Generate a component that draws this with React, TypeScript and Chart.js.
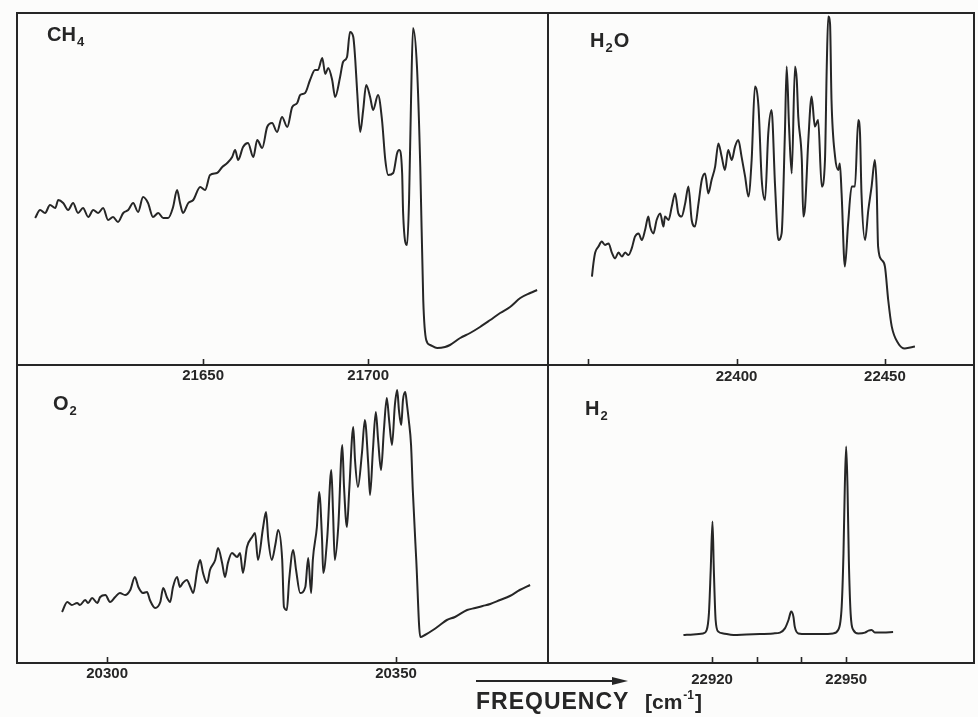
import React, { useEffect, useRef } from "react";
import { Chart, registerables } from "chart.js";

Chart.register(...registerables);

const INK = "#262626";
const FONT = "'Liberation Sans', Arial, sans-serif";
const AXIS_H = 30;

// ---------------- CH4 (top left) ----------------
const ch4Freq = [
  21599.1, 21600.6, 21602.1, 21603.6, 21605.2, 21606.1, 21607.6, 21609.1, 21610.6, 21612.1,
  21613.6, 21615.2, 21616.7, 21618.2, 21619.7, 21621.2, 21622.7, 21624.2, 21625.8, 21627.3,
  21628.8, 21630.3, 21631.8, 21633.3, 21634.8, 21636.4, 21637.9, 21639.4, 21640.9, 21642.1,
  21643.0, 21643.9, 21645.5, 21647.0, 21649.1, 21650.6, 21652.1, 21654.2, 21655.8, 21657.3,
  21658.8, 21659.7, 21660.6, 21662.1, 21663.6, 21665.2, 21666.4, 21667.9, 21669.4, 21670.9,
  21672.4, 21673.9, 21675.5, 21677.0, 21678.5,
  21679.4, 21680.9, 21682.4, 21683.9, 21684.8, 21686.1, 21687.0, 21687.9, 21689.1, 21690.0,
  21691.5, 21692.4, 21693.6, 21694.5, 21695.5, 21696.1, 21696.7, 21697.6, 21698.5, 21699.4,
  21700.6, 21701.5, 21703.0, 21704.2, 21705.2, 21706.1, 21707.6, 21708.8, 21709.4, 21710.3,
  21710.6, 21711.8, 21712.4, 21713.0, 21713.6, 21714.8, 21715.8, 21716.7, 21717.6, 21718.8,
  21720.9, 21723.3, 21724.8, 21727.9, 21730.9, 21733.9, 21737.0, 21740.0, 21743.0, 21746.1,
  21749.1, 21751.2,
];
const ch4Int = [
  73.5, 77.5, 76, 80, 78.5, 82.5, 81, 77.5, 81, 76,
  78.5, 74, 77.5, 76, 78.5, 72.5, 74, 71.5, 76, 77.5,
  81, 76.5, 84, 81, 74, 76, 73.5, 73.5, 79, 87.5,
  81, 76, 81, 82.5, 89, 87.5, 95, 96, 99, 101,
  104, 107.5, 102.5, 109, 111, 104, 112.5, 108.5, 119, 121,
  116.5, 124, 119, 129, 131,
  135, 136, 142.5, 147.5, 147.5, 153.5, 145.5, 148.5, 142.5, 134,
  144, 151.5, 154, 166.5, 164, 152.5, 136, 116.5, 127.5, 140,
  134, 127.5, 135, 122.5, 102.5, 95, 96, 106, 107.5, 96,
  76, 60, 82.5, 132.5, 168.5, 149, 99, 32.5, 12.5, 10,
  8.5, 9, 10, 13.5, 16, 19, 22.5, 26, 29, 33.5,
  36, 37.5,
];
const ch4Ticks = [21650, 21700];
const ch4TickLabels = [21650, 21700];

// ---------------- H2O (top right) ----------------
const h2oFreq = [
  22351.3, 22351.8, 22352.4, 22353.5, 22354.6, 22355.7, 22356.9, 22358.0, 22359.1, 22360.2,
  22361.4, 22362.5, 22363.6, 22364.7, 22365.8, 22367.0, 22368.1, 22369.2, 22370.3, 22370.9,
  22372.0, 22373.1, 22374.3, 22375.4, 22375.9, 22377.1, 22378.2, 22379.3, 22380.4, 22381.5,
  22382.7, 22383.8, 22384.9, 22386.0, 22387.2, 22388.3, 22389.4, 22390.5, 22391.6, 22392.8,
  22393.9, 22395.0, 22396.1, 22397.2, 22398.4, 22399.5, 22400.6, 22401.7, 22402.9, 22404.0,
  22405.1, 22406.2, 22407.4, 22408.5, 22409.6, 22410.7, 22411.8, 22413.0, 22414.1, 22415.2,
  22416.3, 22416.9, 22417.7, 22418.6, 22419.7, 22420.3, 22420.8, 22422.0, 22422.5, 22423.1,
  22424.2, 22425.3, 22426.4, 22427.5, 22428.7, 22429.8, 22430.4, 22430.9, 22431.5, 22432.0,
  22433.2, 22434.3, 22434.8, 22435.4, 22436.5, 22437.6, 22438.8, 22439.9, 22441.0, 22441.6,
  22442.1, 22443.3, 22444.4, 22445.5, 22446.6, 22447.2, 22447.7, 22448.9, 22450.0, 22451.1,
  22452.3, 22454.5, 22456.7, 22460.1,
];
const h2oInt = [
  44.2, 50.8, 56.2, 59.2, 61.7, 60.0, 60.8, 56.2, 53.3, 56.2,
  54.2, 56.2, 55.0, 58.3, 64.2, 65.8, 62.5, 67.5, 74.2, 69.2,
  65.8, 72.5, 75.8, 69.2, 74.2, 72.5, 79.2, 85.8, 75.8, 74.2,
  80.8, 89.2, 72.5, 69.2, 80.8, 92.5, 95.8, 85.8, 92.5, 99.2,
  110.8, 104.2, 97.5, 107.5, 102.5, 109.2, 112.5, 104.2, 94.2, 84.2,
  102.5, 139.2, 129.2, 92.5, 82.5, 115.8, 127.5, 89.2, 62.5, 65.8,
  115.8, 149.2, 119.2, 95.8, 149.2, 142.5, 124.2, 102.5, 74.2, 79.2,
  112.5, 134.2, 119.2, 122.5, 89.2, 102.5, 149.2, 174.2, 170.8, 132.5,
  104.2, 97.5, 100.8, 85.8, 49.2, 70.8, 89.2, 89.2, 122.5, 115.8,
  85.8, 62.5, 77.5, 89.2, 102.5, 89.2, 59.2, 52.5, 49.2, 32.5,
  19.2, 10.8, 8.3, 9.2,
];
const h2oTicks = [22350, 22400, 22450];
const h2oTickLabels = [22400, 22450];

// ---------------- O2 (bottom left) ----------------
const o2Freq = [
  20292.2, 20293.1, 20293.9, 20294.8, 20295.3, 20296.2, 20296.7, 20297.4, 20298.3, 20298.8,
  20299.7, 20300.5, 20301.4, 20302.2, 20303.1, 20304.0, 20304.8, 20305.4, 20306.2, 20306.9,
  20307.4, 20308.3, 20309.2, 20309.7, 20310.4, 20310.9, 20311.4, 20312.1, 20312.6, 20313.1,
  20313.8, 20314.4, 20314.9, 20315.6, 20316.1, 20316.6, 20317.3, 20317.8, 20318.7, 20319.2,
  20319.9, 20320.4, 20320.9, 20321.6, 20322.5, 20323.0, 20323.5, 20324.2, 20325.1, 20325.6,
  20326.1, 20327.0, 20327.5, 20327.9, 20328.5, 20329.1, 20329.6, 20330.3, 20330.6, 20331.1,
  20331.5, 20332.2, 20332.7, 20333.4, 20334.3, 20334.8, 20335.3, 20335.6, 20336.3, 20336.7,
  20337.2, 20337.4, 20338.1, 20338.8, 20339.1, 20339.4, 20340.0, 20340.7, 20341.0, 20341.5,
  20341.9, 20342.6, 20342.9, 20343.4, 20344.1, 20344.6, 20345.2, 20345.5, 20346.0, 20346.5,
  20346.9, 20347.4, 20347.9, 20348.4, 20348.8, 20349.3, 20349.8, 20350.2, 20350.5, 20350.9,
  20351.2, 20351.6, 20351.9, 20352.2, 20352.6, 20352.9, 20353.5, 20354.2, 20355.0, 20356.4,
  20357.6, 20358.8, 20360.2, 20362.3, 20363.7, 20365.0, 20366.3, 20368.0, 20369.7, 20371.4,
  20373.2,
];
const o2Int = [
  25.5, 30.5, 29, 30, 29, 31.5, 30, 32.5, 30, 33,
  34, 30.5, 33, 35, 34, 36.5, 43, 38, 35, 35.5,
  31.5, 27.5, 30.5, 37.5, 32.5, 30.5, 38, 43, 38, 40,
  41.5, 38, 35, 46.5, 51.5, 45, 40, 46.5, 51.5, 57.5,
  50, 43, 50, 55, 53, 55, 45, 58, 63, 65,
  51.5, 68, 75.5, 61.5, 51.5, 59, 66.5, 51.5, 28, 26.5,
  41.5, 56.5, 46.5, 35, 38, 52.5, 35, 51.5, 68, 85.5,
  61.5, 45, 63, 96.5, 75, 51.5, 68, 109, 88, 68,
  86.5, 118, 101.5, 88, 105, 121.5, 99, 84, 106.5, 125.5,
  111.5, 96.5, 116.5, 132.5, 121.5, 109, 129, 136.5, 126.5, 119,
  131.5, 135.5, 129, 121.5, 109, 86.5, 51.5, 13, 14, 16.5,
  19, 21.5, 23, 26.5, 27.5, 28.5, 29.5, 31.5, 33.5, 36.5,
  39,
];
const o2Ticks = [20300, 20350];
const o2TickLabels = [20300, 20350];

// ---------------- H2 (bottom right) ----------------
const h2Freq = [
  22913.6, 22915.8, 22918.0, 22918.8, 22919.3, 22919.7, 22920.1, 22920.4, 22920.8, 22921.4,
  22922.5, 22924.8, 22927.7, 22930.7, 22933.7, 22935.2, 22936.3, 22937.1, 22937.7, 22938.2,
  22938.5, 22939.3, 22941.2, 22944.9, 22947.1, 22948.2, 22949.0, 22949.4, 22949.7, 22950.0,
  22950.3, 22950.6, 22951.0, 22951.6, 22952.7, 22954.2, 22955.0, 22955.7, 22956.4, 22958.3,
  22960.5,
];
const h2Int = [
  14, 14.3, 14.8, 16.5, 24.8, 46.5, 70.7, 46.5, 21.5, 15.7,
  14.8, 14, 14.3, 14.5, 14.8, 15.2, 17.3, 21.5, 25.7, 23.2,
  18.2, 14.8, 14.5, 14.5, 14.8, 16.5, 28.2, 54.8, 88.2, 108.2,
  88.2, 51.5, 24.8, 16.5, 14.8, 15.2, 16.2, 16.5, 15.3, 15.3,
  15.5,
];
const h2Ticks = [22920, 22930, 22940, 22950];
const h2TickLabels = [22920, 22950];

const axisTitle = "FREQUENCY";
const axisUnit = ["[cm", "-1", "]"];

type PanelDef = {
  key: string;
  rect: { l: number; t: number; r: number; b: number };
  xMin: number;
  xMax: number;
  yMax: number;
  freq: number[];
  inten: number[];
  ticks: number[];
  labels: number[];
  name: string[];
  nameAt: number[];
  pad: { l: number; r: number; t: number; b: number };
  labelPad: number;
  title?: boolean;
};

const PANELS: PanelDef[] = [
  {
    key: "ch4", rect: { l: 17, t: 13, r: 548, b: 365 }, xMin: 21593.6, xMax: 21754.5, yMax: 176,
    freq: ch4Freq, inten: ch4Int, ticks: ch4Ticks, labels: ch4TickLabels,
    name: ["CH", "4", ""], nameAt: [30, 28], pad: { l: 10, r: 10, t: 10, b: 40 }, labelPad: 2,
  },
  {
    key: "h2o", rect: { l: 548, t: 13, r: 974, b: 365 }, xMin: 22336.5, xMax: 22480, yMax: 176,
    freq: h2oFreq, inten: h2oInt, ticks: h2oTicks, labels: h2oTickLabels,
    name: ["H", "2", "O"], nameAt: [42, 34], pad: { l: 10, r: 4, t: 10, b: 40 }, labelPad: 3,
  },
  {
    key: "o2", rect: { l: 17, t: 365, r: 548, b: 663 }, xMin: 20284.4, xMax: 20376.3, yMax: 149,
    freq: o2Freq, inten: o2Int, ticks: o2Ticks, labels: o2TickLabels,
    name: ["O", "2", ""], nameAt: [36, 45], pad: { l: 10, r: 10, t: 10, b: 40 }, labelPad: 2,
  },
  {
    key: "h2", rect: { l: 548, t: 365, r: 974, b: 663 }, xMin: 22883.3, xMax: 22978.6, yMax: 149,
    freq: h2Freq, inten: h2Int, ticks: h2Ticks, labels: h2TickLabels,
    name: ["H", "2", ""], nameAt: [37, 50], pad: { l: 100, r: 4, t: 10, b: 54 }, labelPad: 8, title: true,
  },
];

function PanelChart({ p }: { p: PanelDef }) {
  const ref = useRef<HTMLCanvasElement | null>(null);
  const w = p.rect.r - p.rect.l + p.pad.l + p.pad.r;
  const h = p.rect.b - p.rect.t + p.pad.t + p.pad.b;

  useEffect(() => {
    const framePlugin = {
      id: "frame_" + p.key,
      afterDraw(chart: any) {
        const { ctx, chartArea: a } = chart;
        const xs = chart.scales.x;
        ctx.save();
        ctx.strokeStyle = INK;
        ctx.fillStyle = INK;
        ctx.lineWidth = 2;
        ctx.strokeRect(a.left, a.top, a.right - a.left, a.bottom - a.top);
        ctx.beginPath();
        for (const t of xs.ticks) {
          const px = Math.round(xs.getPixelForValue(t.value)) + 0.5;
          ctx.moveTo(px, a.bottom);
          ctx.lineTo(px, a.bottom - 6);
        }
        ctx.lineWidth = 1.6;
        ctx.stroke();

        // molecule name with subscript
        let x = a.left + p.nameAt[0];
        const y = a.top + p.nameAt[1];
        ctx.textBaseline = "alphabetic";
        ctx.textAlign = "left";
        ctx.font = `bold 20px ${FONT}`;
        ctx.fillText(p.name[0], x, y);
        x += ctx.measureText(p.name[0]).width + 1;
        ctx.font = `bold 13px ${FONT}`;
        ctx.fillText(p.name[1], x, y + 5);
        x += ctx.measureText(p.name[1]).width + 1;
        if (p.name[2]) {
          ctx.font = `bold 20px ${FONT}`;
          ctx.fillText(p.name[2], x, y);
        }

        if (p.title) {
          const ox = a.left - p.rect.l;
          const oy = a.top - p.rect.t;
          const X = (v: number) => v + ox;
          const Y = (v: number) => v + oy;
          // arrow
          ctx.lineWidth = 2;
          ctx.beginPath();
          ctx.moveTo(X(476), Y(681));
          ctx.lineTo(X(616), Y(681));
          ctx.stroke();
          ctx.beginPath();
          ctx.moveTo(X(628), Y(681));
          ctx.lineTo(X(612), Y(677));
          ctx.lineTo(X(612), Y(685));
          ctx.closePath();
          ctx.fill();
          // text
          ctx.font = `bold 23px ${FONT}`;
          (ctx as any).letterSpacing = "1px";
          ctx.fillText(axisTitle, X(476), Y(709));
          (ctx as any).letterSpacing = "0px";
          let ux = X(645);
          ctx.font = `bold 21px ${FONT}`;
          ctx.fillText(axisUnit[0], ux, Y(709));
          ux += ctx.measureText(axisUnit[0]).width + 1;
          ctx.font = `bold 12px ${FONT}`;
          ctx.fillText(axisUnit[1], ux, Y(699));
          ux += ctx.measureText(axisUnit[1]).width + 1;
          ctx.font = `bold 21px ${FONT}`;
          ctx.fillText(axisUnit[2], ux, Y(709));
        }
        ctx.restore();
      },
    };

    const chart = new Chart(ref.current as HTMLCanvasElement, {
      type: "line",
      data: {
        datasets: [
          {
            data: p.freq.map((f, i) => ({ x: f, y: p.inten[i] })),
            borderColor: INK,
            borderWidth: 2,
            pointRadius: 0,
            fill: false,
            cubicInterpolationMode: "monotone",
          } as any,
        ],
      },
      options: {
        animation: false,
        responsive: false,
        maintainAspectRatio: false,
        devicePixelRatio: 1,
        events: [],
        layout: { padding: { left: p.pad.l, right: p.pad.r, top: p.pad.t, bottom: p.pad.b - AXIS_H } },
        plugins: { legend: { display: false }, tooltip: { enabled: false }, title: { display: false } },
        scales: {
          x: {
            type: "linear",
            min: p.xMin,
            max: p.xMax,
            grid: { display: false, drawTicks: false, tickLength: 0 },
            border: { display: false },
            ticks: {
              autoSkip: false,
              maxRotation: 0,
              padding: p.labelPad,
              color: INK,
              font: { family: FONT, size: 15, weight: "bold" },
              callback: (v: any) => (p.labels.includes(Number(v)) ? String(v) : ""),
            },
            afterBuildTicks: (s: any) => {
              s.ticks = p.ticks.map((v) => ({ value: v }));
            },
            afterFit: (s: any) => {
              s.height = AXIS_H;
            },
          } as any,
          y: { display: false, min: 0, max: p.yMax },
        },
      },
      plugins: [framePlugin],
    });
    return () => chart.destroy();
  }, []);

  return (
    <canvas
      ref={ref}
      width={w}
      height={h}
      style={{ position: "absolute", left: p.rect.l - p.pad.l, top: p.rect.t - p.pad.t, width: w, height: h }}
    />
  );
}

export default function App() {
  return (
    <div
      style={{
        position: "absolute",
        left: 0,
        top: 0,
        width: 978,
        height: 717,
        background: "#fcfcfb",
        overflow: "hidden",
      }}
    >
      {PANELS.map((p) => (
        <PanelChart key={p.key} p={p} />
      ))}
    </div>
  );
}
